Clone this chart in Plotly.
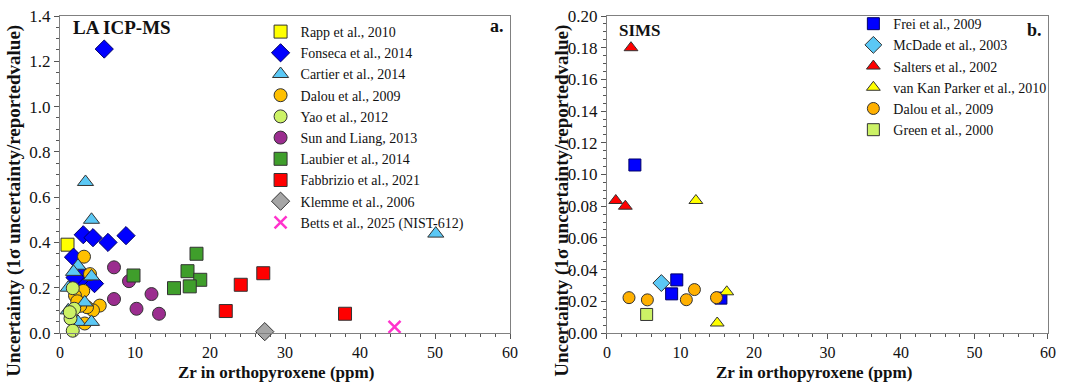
import plotly.graph_objects as go

FONT = "Liberation Serif, Times New Roman, serif"

# ---------------- Panel a: LA ICP-MS ----------------
rapp_x = [1.0]
rapp_y = [0.39]
fonseca_x = [5.9, 3.1, 4.4, 6.4, 8.8, 1.8, 3.0, 2.5, 4.6, 2.0]
fonseca_y = [1.254, 0.434, 0.421, 0.40, 0.43, 0.335, 0.258, 0.229, 0.218, 0.245]
cartier_x = [3.4, 4.2, 2.4, 4.2, 1.1, 3.3, 1.1, 2.4, 4.2, 50.1, 1.8]
cartier_y = [0.667, 0.50, 0.297, 0.25, 0.20, 0.135, 0.10, 0.049, 0.049, 0.439, 0.27]
dalou_x = [3.2, 3.1, 2.0, 4.0, 5.3, 4.4, 3.6, 2.7, 3.3, 2.3]
dalou_y = [0.337, 0.186, 0.165, 0.26, 0.121, 0.10, 0.114, 0.12, 0.042, 0.14]
yao_x = [1.7, 1.9, 1.4, 1.7, 1.3]
yao_y = [0.198, 0.107, 0.064, 0.010, 0.092]
sun_x = [7.2, 9.2, 12.2, 7.2, 10.2, 13.2]
sun_y = [0.29, 0.229, 0.172, 0.150, 0.107, 0.085]
laubier_x = [9.8, 18.2, 17.0, 18.7, 17.3, 15.2]
laubier_y = [0.254, 0.35, 0.273, 0.235, 0.206, 0.198]
fabbrizio_x = [27.1, 24.1, 22.1, 38.0]
fabbrizio_y = [0.264, 0.213, 0.097, 0.085]
klemme_x = [27.3]
klemme_y = [0.006]
betts_x = [44.6]
betts_y = [0.027]

# ---------------- Panel b: SIMS ----------------
frei_x = [3.8, 9.5, 8.8, 15.5]
frei_y = [0.106, 0.0335, 0.0247, 0.022]
mcdade_x = [7.4]
mcdade_y = [0.0315]
salters_x = [3.27, 1.2, 2.5]
salters_y = [0.180, 0.0836, 0.080]
vkp_x = [12.1, 16.3, 15.0]
vkp_y = [0.0836, 0.026, 0.0063]
dalou_b_x = [3.0, 5.5, 10.8, 11.9, 14.9]
dalou_b_y = [0.0223, 0.0209, 0.021, 0.0274, 0.0223]
green_x = [5.4]
green_y = [0.0117]

x_ticks = [0, 10, 20, 30, 40, 50, 60]

fig = go.Figure()

OUT = "#333333"


def add(name, x, y, symbol, color, size, rank, xa="x", ya="y", leg="legend", line_color=OUT):
    fig.add_trace(go.Scatter(
        x=x, y=y, mode="markers", name=name, xaxis=xa, yaxis=ya,
        legend=leg, legendrank=rank, cliponaxis=False,
        marker=dict(symbol=symbol, color=color, size=size,
                    line=dict(color=line_color, width=1)),
    ))


# panel a (drawing order differs from legend order)
add("Rapp et al., 2010", rapp_x, rapp_y, "square", "#FFFF00", 13, 1)
add("Fonseca et al., 2014", fonseca_x, fonseca_y, "diamond", "#0000FF", 14, 2, line_color="#000066")
add("Dalou et al., 2009", dalou_x, dalou_y, "circle", "#FFC000", 13, 4)
add("Cartier et al., 2014", cartier_x, cartier_y, "triangle-up", "#5BC8F5", 14, 3)
add("Yao et al., 2012", yao_x, yao_y, "circle", "#CCF266", 13, 5)
add("Sun and Liang, 2013", sun_x, sun_y, "circle", "#9B2D8F", 13, 6)
add("Laubier et al., 2014", laubier_x, laubier_y, "square", "#3F9E2B", 13, 7)
add("Fabbrizio et al., 2021", fabbrizio_x, fabbrizio_y, "square", "#FF0000", 13, 8)
add("Klemme et al., 2006", klemme_x, klemme_y, "diamond", "#A6A6A6", 14, 9)
fig.add_trace(go.Scatter(
    x=betts_x, y=betts_y, mode="markers", name="Betts et al., 2025 (NIST-612)",
    xaxis="x", yaxis="y", legend="legend", legendrank=10, cliponaxis=False,
    marker=dict(symbol="x-thin", size=12, line=dict(color="#FF33CC", width=2.5)),
))

# panel b
add("Frei et al., 2009", frei_x, frei_y, "square", "#0000FF", 12, 1, "x2", "y2", "legend2", "#000066")
add("McDade et al., 2003", mcdade_x, mcdade_y, "diamond", "#5BC8F5", 13, 2, "x2", "y2", "legend2")
add("Salters et al., 2002", salters_x, salters_y, "triangle-up", "#FF0000", 12, 3, "x2", "y2", "legend2")
add("van Kan Parker et al., 2010", vkp_x, vkp_y, "triangle-up", "#FFFF00", 12, 4, "x2", "y2", "legend2")
add("Dalou et al., 2009", dalou_b_x, dalou_b_y, "circle", "#FFB000", 12, 5, "x2", "y2", "legend2")
add("Green et al., 2000", green_x, green_y, "square", "#CCF266", 12, 6, "x2", "y2", "legend2")

FRAME = "#808080"
tickfont = dict(family=FONT, size=16, color="#111111")


def xax(domain, anchor):
    return dict(domain=domain, anchor=anchor, range=[0, 60], tickvals=x_ticks,
                showgrid=False, zeroline=False, showline=True, linecolor=FRAME,
                linewidth=1, mirror=True, ticks="outside", ticklen=5,
                tickcolor="#555555", tickfont=tickfont,
                minor=dict(dtick=2, ticks="outside", ticklen=3, tickcolor="#555555"))


def yax(rng, dtick, fmt, minor_dtick, anchor):
    return dict(anchor=anchor, domain=[0, 1], range=rng, dtick=dtick, tick0=0,
                tickformat=fmt, showgrid=False, zeroline=False, showline=True,
                linecolor=FRAME, linewidth=1, mirror=True, ticks="outside",
                ticklen=5, tickcolor="#555555", tickfont=dict(family=FONT, size=17, color="#111111"),
                minor=dict(dtick=minor_dtick, ticks="outside", ticklen=3,
                           tickcolor="#555555"))


ytitle = "Uncertainty (1σ uncertainty/reportedvalue)"
xtitle = "Zr in orthopyroxene (ppm)"
xtfont = dict(family=FONT, size=17, color="#111111")
ytfont = dict(family=FONT, size=19, color="#111111")

fig.update_layout(
    width=1065, height=384,
    margin=dict(l=60, r=17, t=8, b=51),
    paper_bgcolor="white", plot_bgcolor="white",
    font=dict(family=FONT, color="#111111"),
    xaxis=xax([0, 0.4555], "y"),
    yaxis=yax([0, 1.4], 0.2, ".1f", 0.05, "x"),
    xaxis2=xax([0.5536, 1.0], "y2"),
    yaxis2=yax([0, 0.2], 0.02, ".2f", 0.005, "x2"),
    legend=dict(x=0.203, y=1.0, xanchor="left", yanchor="top",
                bgcolor="rgba(0,0,0,0)", font=dict(family=FONT, size=14, color="#111111"),
                itemwidth=30, tracegroupgap=0),
    legend2=dict(x=0.803, y=1.025, xanchor="left", yanchor="top",
                 bgcolor="rgba(0,0,0,0)", font=dict(family=FONT, size=14, color="#111111"),
                 itemwidth=30, tracegroupgap=0),
    showlegend=True,
    annotations=[
        dict(text="<b>LA ICP-MS</b>", xref="x domain", yref="y domain", x=0.025, y=0.963,
             xanchor="left", yanchor="middle", showarrow=False,
             font=dict(family=FONT, size=19, color="#111111")),
        dict(text="<b>a.</b>", xref="x domain", yref="y domain", x=0.99, y=0.97,
             xanchor="right", yanchor="middle", showarrow=False,
             font=dict(family=FONT, size=18, color="#111111")),
        dict(text="<b>SIMS</b>", xref="x2 domain", yref="y2 domain", x=0.022, y=0.955,
             xanchor="left", yanchor="middle", showarrow=False,
             font=dict(family=FONT, size=17, color="#111111")),
        dict(text="<b>b.</b>", xref="x2 domain", yref="y2 domain", x=0.992, y=0.955,
             xanchor="right", yanchor="middle", showarrow=False,
             font=dict(family=FONT, size=18, color="#111111")),
        dict(text="<b>" + ytitle + "</b>", xref="paper", yref="paper",
             x=-0.0466, y=0.417, textangle=-90, xanchor="center", yanchor="middle",
             showarrow=False, font=ytfont),
        dict(text="<b>" + ytitle + "</b>", xref="paper", yref="paper",
             x=0.508, y=0.417, textangle=-90, xanchor="center", yanchor="middle",
             showarrow=False, font=ytfont),
        dict(text="<b>" + xtitle + "</b>", xref="x domain", yref="paper",
             x=0.48, y=-0.126, xanchor="center", yanchor="middle",
             showarrow=False, font=xtfont),
        dict(text="<b>" + xtitle + "</b>", xref="x2 domain", yref="paper",
             x=0.47, y=-0.126, xanchor="center", yanchor="middle",
             showarrow=False, font=xtfont),
    ],
)

fig.write_html("out.html", config={"displayModeBar": False},
               post_script="document.body.style.margin='0px';")
